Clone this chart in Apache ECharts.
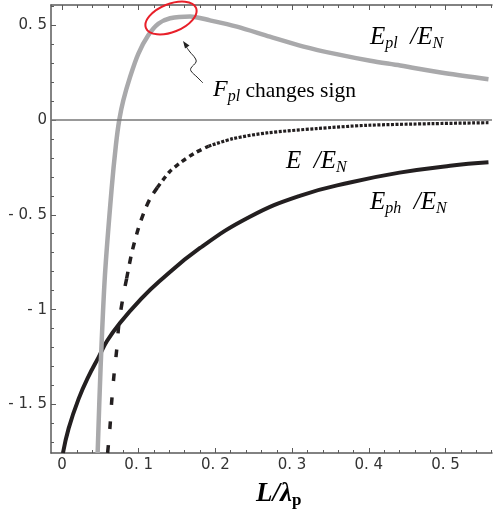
<!DOCTYPE html>
<html><head><meta charset="utf-8">
<script src="https://cdn.jsdelivr.net/npm/echarts@6/dist/echarts.min.js"></script>
<style>html,body{margin:0;padding:0;background:#fff}#c{width:494px;height:518px}</style>
</head><body><div id="c"></div>
<script>
// E_pl / E_N (gray)
const plX = [0.0465, 0.0504, 0.056, 0.0648, 0.0704, 0.0747, 0.080, 0.0887, 0.0995, 0.1125, 0.1256, 0.141, 0.167, 0.193, 0.228, 0.271, 0.315, 0.358, 0.402, 0.441, 0.5, 0.556];
const plY = [-1.755, -1.30, -0.82, -0.36, -0.13, 0.0, 0.103, 0.225, 0.348, 0.445, 0.506, 0.535, 0.545, 0.524, 0.491, 0.438, 0.386, 0.346, 0.311, 0.286, 0.245, 0.214];
// E / E_N (dashed)
const eX = [0.0595, 0.0626, 0.0648, 0.0678, 0.0713, 0.0743, 0.080, 0.0843, 0.0908, 0.0995, 0.108, 0.1156, 0.1243, 0.140, 0.154, 0.173, 0.191, 0.223, 0.267, 0.332, 0.397, 0.484, 0.556];
const eY = [-1.755, -1.617, -1.485, -1.345, -1.213, -1.073, -0.924, -0.836, -0.704, -0.573, -0.476, -0.41, -0.357, -0.275, -0.227, -0.175, -0.139, -0.099, -0.069, -0.046, -0.029, -0.02, -0.015];
// E_ph / E_N (solid black)
const phX = [0.0013, 0.0087, 0.0217, 0.0348, 0.0478, 0.0587, 0.0756, 0.1017, 0.127, 0.18, 0.245, 0.31, 0.3755, 0.44, 0.506, 0.556];
const phY = [-1.755, -1.625, -1.47, -1.35, -1.25, -1.165, -1.07, -0.95, -0.85, -0.675, -0.51, -0.40, -0.33, -0.278, -0.242, -0.224];

const xTickVals = [0, 0.1, 0.2, 0.3, 0.4, 0.5];
const xTickLabels = ['0', '0. 1', '0. 2', '0. 3', '0. 4', '0. 5'];
const xMinorVals = [0.02, 0.04, 0.06, 0.08, 0.12, 0.14, 0.16, 0.18, 0.22, 0.24, 0.26, 0.28, 0.32, 0.34, 0.36, 0.38, 0.42, 0.44, 0.46, 0.48, 0.52, 0.54, 0.56];
const yTickVals = [0.5, 0, -0.5, -1, -1.5];
const yTickLabels = ['0. 5', '0', '- 0. 5', '- 1', '- 1. 5'];
const yMinorVals = [0.6, 0.4, 0.3, 0.2, 0.1, -0.1, -0.2, -0.3, -0.4, -0.6, -0.7, -0.8, -0.9, -1.1, -1.2, -1.3, -1.4, -1.6, -1.7];

const xMin = -0.0143, xMax = 0.5606, yMin = -1.755, yMax = 0.605;

const pairs = (xs, ys, a, b) => xs.slice(a, b).map((x, i) => [x, ys[a + i]]);
const lab = (vals, labels) => v => { const i = vals.findIndex(t => Math.abs(t - v) < 1e-9); return i >= 0 ? labels[i] : ''; };

const axisColor = '#5a5a5a';
const chart = echarts.init(document.getElementById('c'), null, {renderer: 'canvas'});
const baseX = {type: 'value', min: xMin, max: xMax, splitLine: {show: false}, gridIndex: 0};
const baseY = {type: 'value', min: yMin, max: yMax, splitLine: {show: false}, gridIndex: 0};
const line = {show: true, onZero: false, lineStyle: {color: axisColor, width: 1.5}};
const noLine = {show: false, onZero: false};
const serif = '"Liberation Serif", "DejaVu Serif", serif';
const sub = {fontFamily: serif, fontStyle: 'italic', fontSize: 16, padding: [13, 0, 0, 0], color: '#222'};
const main = {fontFamily: serif, fontStyle: 'italic', fontSize: 25, color: '#222'};
const tickFont = {color: '#333', fontFamily: '"DejaVu Sans", sans-serif', fontSize: 15};

chart.setOption({
  animation: false,
  grid: {left: 51, right: 2, top: 5, bottom: 65, containLabel: false},
  xAxis: [
    Object.assign({}, baseX, {position: 'bottom', axisLine: line,
      axisTick: {show: true, inside: true, length: 5, customValues: xTickVals, lineStyle: {color: axisColor}},
      axisLabel: Object.assign({show: true, customValues: xTickVals, formatter: lab(xTickVals, xTickLabels), margin: 5}, tickFont)}),
    Object.assign({}, baseX, {position: 'bottom', axisLine: noLine,
      axisTick: {show: true, inside: true, length: 3, customValues: xMinorVals, lineStyle: {color: axisColor}}, axisLabel: {show: false}}),
    Object.assign({}, baseX, {position: 'top', axisLine: line,
      axisTick: {show: true, inside: true, length: 5, customValues: xTickVals, lineStyle: {color: axisColor}}, axisLabel: {show: false}}),
    Object.assign({}, baseX, {position: 'top', axisLine: noLine,
      axisTick: {show: true, inside: true, length: 3, customValues: xMinorVals, lineStyle: {color: axisColor}}, axisLabel: {show: false}})
  ],
  yAxis: [
    Object.assign({}, baseY, {position: 'left', axisLine: line,
      axisTick: {show: true, inside: true, length: 5, customValues: yTickVals, lineStyle: {color: axisColor}},
      axisLabel: Object.assign({show: true, customValues: yTickVals, formatter: lab(yTickVals, yTickLabels), margin: 4}, tickFont)}),
    Object.assign({}, baseY, {position: 'left', axisLine: noLine,
      axisTick: {show: true, inside: true, length: 3, customValues: yMinorVals, lineStyle: {color: axisColor}}, axisLabel: {show: false}})
  ],
  series: [
    {type: 'line', data: [], z: 1, silent: true,
      markLine: {silent: true, symbol: 'none', label: {show: false}, lineStyle: {color: '#777', width: 1.5, type: 'solid'}, data: [{yAxis: 0}]}},
    {name: 'Eph', type: 'line', data: pairs(phX, phY, 0, phX.length), smooth: 0.45, showSymbol: false, z: 3,
      lineStyle: {color: '#231f20', width: 4}},
    {name: 'E1', type: 'line', data: pairs(eX, eY, 0, 8), smooth: 0.3, showSymbol: false, z: 3,
      lineStyle: {color: '#231f20', width: 3.5, type: [8, 16]}},
    {name: 'E2', type: 'line', data: pairs(eX, eY, 7, 13), smooth: 0.3, showSymbol: false, z: 3,
      lineStyle: {color: '#231f20', width: 3.5, type: [7, 8]}},
    {name: 'E3', type: 'line', data: pairs(eX, eY, 12, 17), smooth: 0.3, showSymbol: false, z: 3,
      lineStyle: {color: '#231f20', width: 3.5, type: [5, 4]}},
    {name: 'E4', type: 'line', data: pairs(eX, eY, 16, eX.length), smooth: 0.3, showSymbol: false, z: 3,
      lineStyle: {color: '#231f20', width: 3.2, type: [3, 1.5]}},
    {name: 'Epl', type: 'line', data: pairs(plX, plY, 0, plX.length), smooth: 0.3, showSymbol: false, z: 4,
      lineStyle: {color: '#a9a9ab', width: 4.5}}
  ],
  graphic: [
    {type: 'ellipse', x: 171, y: 18, rotation: 22 * Math.PI / 180, shape: {cx: 0, cy: 0, rx: 27, ry: 14},
      style: {fill: 'none', stroke: '#e8202a', lineWidth: 2}, z: 10},
    {type: 'polyline', shape: {points: [[185, 45], [190, 52], [195, 58], [196, 62], [191, 68], [191, 71], [197, 77], [203, 83]], smooth: 0.4},
      style: {stroke: '#222', lineWidth: 1, fill: 'none'}, z: 10},
    {type: 'polygon', shape: {points: [[183, 41], [189.5, 45.5], [185, 48.5]]}, style: {fill: '#222'}, z: 10},
    {type: 'text', left: 370, top: 25, style: {text: '{m|E}{s|pl}{m|  /E}{s|N}', rich: {m: main, s: sub}}, z: 10},
    {type: 'text', left: 213, top: 78, style: {text: '{m|F}{s|pl}{r| changes sign}', rich: {m: Object.assign({}, main, {fontSize: 24}), s: sub, r: {fontFamily: serif, fontSize: 21.5, color: '#222', padding: [2, 0, 0, 0]}}}, z: 10},
    {type: 'text', left: 286, top: 149, style: {text: '{m|E  /E}{s|N}', rich: {m: main, s: sub}}, z: 10},
    {type: 'text', left: 370, top: 190, style: {text: '{m|E}{s|ph}{m|  /E}{s|N}', rich: {m: main, s: sub}}, z: 10},
    {type: 'text', left: 256, top: 481, style: {text: '{a|L/λ}{b|p}', rich: {
      a: {fontFamily: serif, fontStyle: 'italic', fontWeight: 'bold', fontSize: 27, color: '#222'},
      b: {fontFamily: serif, fontWeight: 'bold', fontSize: 17, padding: [13, 0, 0, 0], color: '#222'}}}, z: 10}
  ]
});
</script></body></html>
